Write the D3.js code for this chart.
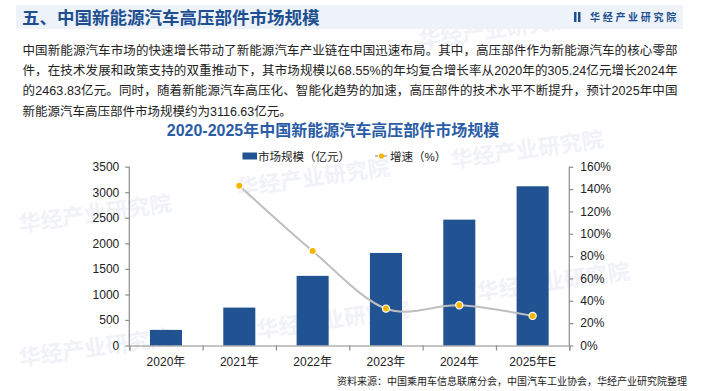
<!DOCTYPE html>
<html><head><meta charset="utf-8">
<script src="https://cdn.jsdelivr.net/npm/d3@7"></script>
<style>
html,body{margin:0;padding:0;background:#fff;}
svg text{font-family:"Liberation Sans","Noto Sans CJK SC",sans-serif;}
</style></head>
<body><svg id="c" width="702" height="391"></svg>
<script>
const categories = ["2020年","2021年","2022年","2023年","2024年","2025年E"];
const marketSize = [305.24, 742, 1363, 1812, 2463.83, 3116.63];
const growth = [null, 1.43, 0.845, 0.33, 0.36, 0.265];
const leftTicks = [0,500,1000,1500,2000,2500,3000,3500];
const rightTicks = [0,0.2,0.4,0.6,0.8,1.0,1.2,1.4,1.6];
const headerTitle = "五、中国新能源汽车高压部件市场规模";
const brand = "华经产业研究院";
const paragraph = [
 "中国新能源汽车市场的快速增长带动了新能源汽车产业链在中国迅速布局。其中，高压部件作为新能源汽车的核心零部",
 "件，在技术发展和政策支持的双重推动下，其市场规模以68.55%的年均复合增长率从2020年的305.24亿元增长2024年",
 "的2463.83亿元。同时，随着新能源汽车高压化、智能化趋势的加速，高压部件的技术水平不断提升，预计2025年中国",
 "新能源汽车高压部件市场规模约为3116.63亿元。"
];
const chartTitle = "2020-2025年中国新能源汽车高压部件市场规模";
const legendLabels = ["市场规模（亿元）","增速（%）"];
const sourceText = "资料来源：中国乘用车信息联席分会，中国汽车工业协会，华经产业研究院整理";

const svg = d3.select("#c");
const CJK = "'Noto Sans CJK SC','Liberation Sans',sans-serif";

// watermarks
const wm = [[20,232],[238,196],[258,338],[20,366],[452,168],[478,300],[420,48]];
svg.append("g").selectAll("text").data(wm).join("text")
  .attr("transform", d=>`translate(${d[0]},${d[1]}) rotate(-8)`)
  .attr("font-family",CJK).attr("font-weight","bold").attr("font-size",22)
  .attr("fill","#f0f2f7").text(brand);

// header band
svg.append("rect").attr("x",16).attr("y",5).attr("width",667).attr("height",24).attr("fill","#eef3fa");
svg.append("text").attr("x",22).attr("y",24).attr("font-family",CJK).attr("font-weight","bold")
  .attr("font-size",17.5).attr("fill","#1d4f91").text(headerTitle);
svg.append("rect").attr("x",574).attr("y",12).attr("width",2.5).attr("height",10).attr("fill","#1d4f91");
svg.append("rect").attr("x",578).attr("y",12).attr("width",2.5).attr("height",10).attr("fill","#1d4f91");
svg.append("text").attr("x",590).attr("y",21).attr("font-family",CJK).attr("font-weight","bold")
  .attr("font-size",10).attr("letter-spacing",2.7).attr("fill","#1d4f91").text(brand);

// paragraph
const pg = svg.append("g");
paragraph.forEach((line,i)=>{
  const t = pg.append("text").attr("x",22.5).attr("y",55+i*20.2)
    .attr("font-family",CJK).attr("font-size",12.5).attr("fill","#222").text(line);
  if(i<3) t.attr("textLength",655).attr("lengthAdjust","spacing");
});

// chart title
svg.append("text").attr("x",333).attr("y",136).attr("text-anchor","middle")
  .attr("font-family",CJK).attr("font-weight","bold").attr("font-size",16).attr("fill","#2b5ca6").text(chartTitle);

// scales
const x = d3.scaleBand().domain(categories).range([129.3,569.3]).paddingInner(0.563).paddingOuter(0.2815);
const yL = d3.scaleLinear().domain([0,3500]).range([345.5,166.7]);
const yR = d3.scaleLinear().domain([0,1.6]).range([345.5,166.7]);

// bars
svg.append("g").selectAll("rect").data(categories).join("rect")
  .attr("x",d=>x(d)).attr("width",x.bandwidth())
  .attr("y",(d,i)=>yL(marketSize[i])).attr("height",(d,i)=>yL(0)-yL(marketSize[i]))
  .attr("fill","#215393");

// axes
const axisColor = "#8c8c8c";
const gl = svg.append("g").attr("transform","translate(129.3,0)")
  .call(d3.axisLeft(yL).tickValues(leftTicks).tickSize(4).tickPadding(6).tickFormat(d3.format("d")));
const gr = svg.append("g").attr("transform","translate(569.3,0)")
  .call(d3.axisRight(yR).tickValues(rightTicks).tickSize(4).tickPadding(7).tickFormat(d=>Math.round(d*100)+"%"));
const xb = d3.scaleLinear().domain([0,categories.length]).range([129.3,569.3]);
const gx = svg.append("g").attr("transform","translate(0,345.5)")
  .call(d3.axisBottom(xb).tickValues(d3.range(0,categories.length+1)).tickSize(5).tickFormat(""));
[gl,gr,gx].forEach(g=>{
  g.select(".domain").attr("stroke",axisColor).attr("stroke-width",1.2);
  g.selectAll(".tick line").attr("stroke",axisColor).attr("stroke-width",1.2);
  g.selectAll("text").attr("font-size",12).attr("fill","#222").attr("font-family","'Liberation Sans',sans-serif");
});
gl.select(".domain").attr("d","M0,166.7V345.5");
gr.select(".domain").attr("d","M0,166.7V345.5");
// x labels
svg.append("g").selectAll("text").data(categories).join("text")
  .attr("x",d=>x(d)+x.bandwidth()/2).attr("y",366).attr("text-anchor","middle")
  .attr("font-size",12).attr("fill","#222").text(d=>d);

// line
const pts = categories.map((c,i)=>({c,v:growth[i]})).filter(d=>d.v!=null);
const line = d3.line().x(d=>x(d.c)+x.bandwidth()/2).y(d=>yR(d.v)).curve(d3.curveCardinal.tension(0));
svg.append("path").datum(pts).attr("d",line).attr("fill","none").attr("stroke","#bfbfbf").attr("stroke-width",2);
svg.append("g").selectAll("circle").data(pts).join("circle")
  .attr("cx",d=>x(d.c)+x.bandwidth()/2).attr("cy",d=>yR(d.v)).attr("r",3.6)
  .attr("fill","#f2b600").attr("stroke","#fff").attr("stroke-width",1.2);

// legend
const lg = svg.append("g");
lg.append("rect").attr("x",242.5).attr("y",152.5).attr("width",14.5).attr("height",7).attr("fill","#215393");
lg.append("text").attr("x",258).attr("y",160.5).attr("font-family",CJK).attr("font-size",11.5).attr("fill","#222").text(legendLabels[0]);
lg.append("line").attr("x1",375).attr("x2",388).attr("y1",156).attr("y2",156).attr("stroke","#bfbfbf").attr("stroke-width",2).attr("stroke-dasharray","3,1.5");
lg.append("circle").attr("cx",381.5).attr("cy",156).attr("r",2.6).attr("fill","#f2b600");
lg.append("text").attr("x",390).attr("y",160.5).attr("font-family",CJK).attr("font-size",11.5).attr("fill","#222").text(legendLabels[1]);

// source
svg.append("text").attr("x",687).attr("y",385).attr("text-anchor","end")
  .attr("font-family",CJK).attr("font-size",10).attr("fill","#222").text(sourceText);
</script></body></html>
